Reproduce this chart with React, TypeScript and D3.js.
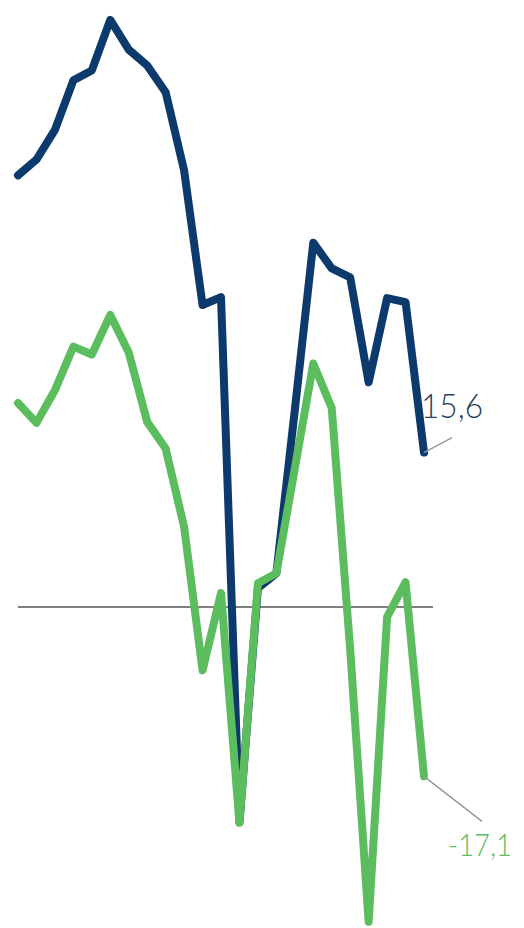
import React from "react";
import * as d3 from "d3";

const periods: number[] = Array.from({ length: 23 }, (_, i) => i);
const seriesBlue: number[] = [43.6, 45.2, 48.2, 53.2, 54.2, 59.3, 56.3, 54.7, 52.0, 44.1, 30.5, 31.3, -21.7, 1.9, 3.4, 19.9, 36.8, 34.2, 33.3, 22.7, 31.2, 30.8, 15.6];
const seriesGreen: number[] = [20.6, 18.6, 21.9, 26.3, 25.5, 29.5, 25.7, 18.7, 16.0, 8.1, -6.4, 1.4, -21.8, 2.4, 3.4, 14.0, 24.6, 20.1, -4.3, -31.8, -1.0, 2.5, -17.1];
const labelBlue = "15,6";
const labelGreen = "-17,1";

const W = 524;
const H = 928;

export default function App() {
  const x = d3.scaleLinear().domain([0, periods.length - 1]).range([18, 424]);
  const y = d3.scaleLinear().domain([0, 10]).range([607, 508]);
  const line = d3
    .line<number>()
    .x((_, i) => x(periods[i]))
    .y((d) => y(d));
  const lastI = periods.length - 1;
  const bx = x(periods[lastI]);
  const by = y(seriesBlue[lastI]);
  const gy = y(seriesGreen[lastI]);
  return (
    <svg
      width={W}
      height={H}
      style={{ position: "absolute", left: 0, top: 0, background: "#fff" }}
    >
      <line x1={x(0)} x2={x(lastI) + 9} y1={y(0)} y2={y(0)} stroke="#555" strokeWidth={1.5} />
      <path d={line(seriesBlue) || ""} fill="none" stroke="#0c3a6c" strokeWidth={8} strokeLinejoin="round" strokeLinecap="round" />
      <path d={line(seriesGreen) || ""} fill="none" stroke="#5bbd5e" strokeWidth={8} strokeLinejoin="round" strokeLinecap="round" />
      <line x1={bx} y1={by} x2={bx + 28} y2={by - 15} stroke="#999" strokeWidth={1.5} />
      <line x1={bx} y1={gy} x2={bx + 58} y2={gy + 45} stroke="#999" strokeWidth={1.5} />
      <text x={bx - 3} y={by - 35} fontFamily="Lato, sans-serif" fontWeight={300} fontSize={33} fill="#2a3f5c" textLength={62} lengthAdjust="spacingAndGlyphs">
        {labelBlue}
      </text>
      <text x={bx + 24} y={gy + 80} fontFamily="Lato, sans-serif" fontWeight={300} fontSize={32} fill="#5bbd5e" textLength={64} lengthAdjust="spacingAndGlyphs">
        {labelGreen}
      </text>
    </svg>
  );
}
